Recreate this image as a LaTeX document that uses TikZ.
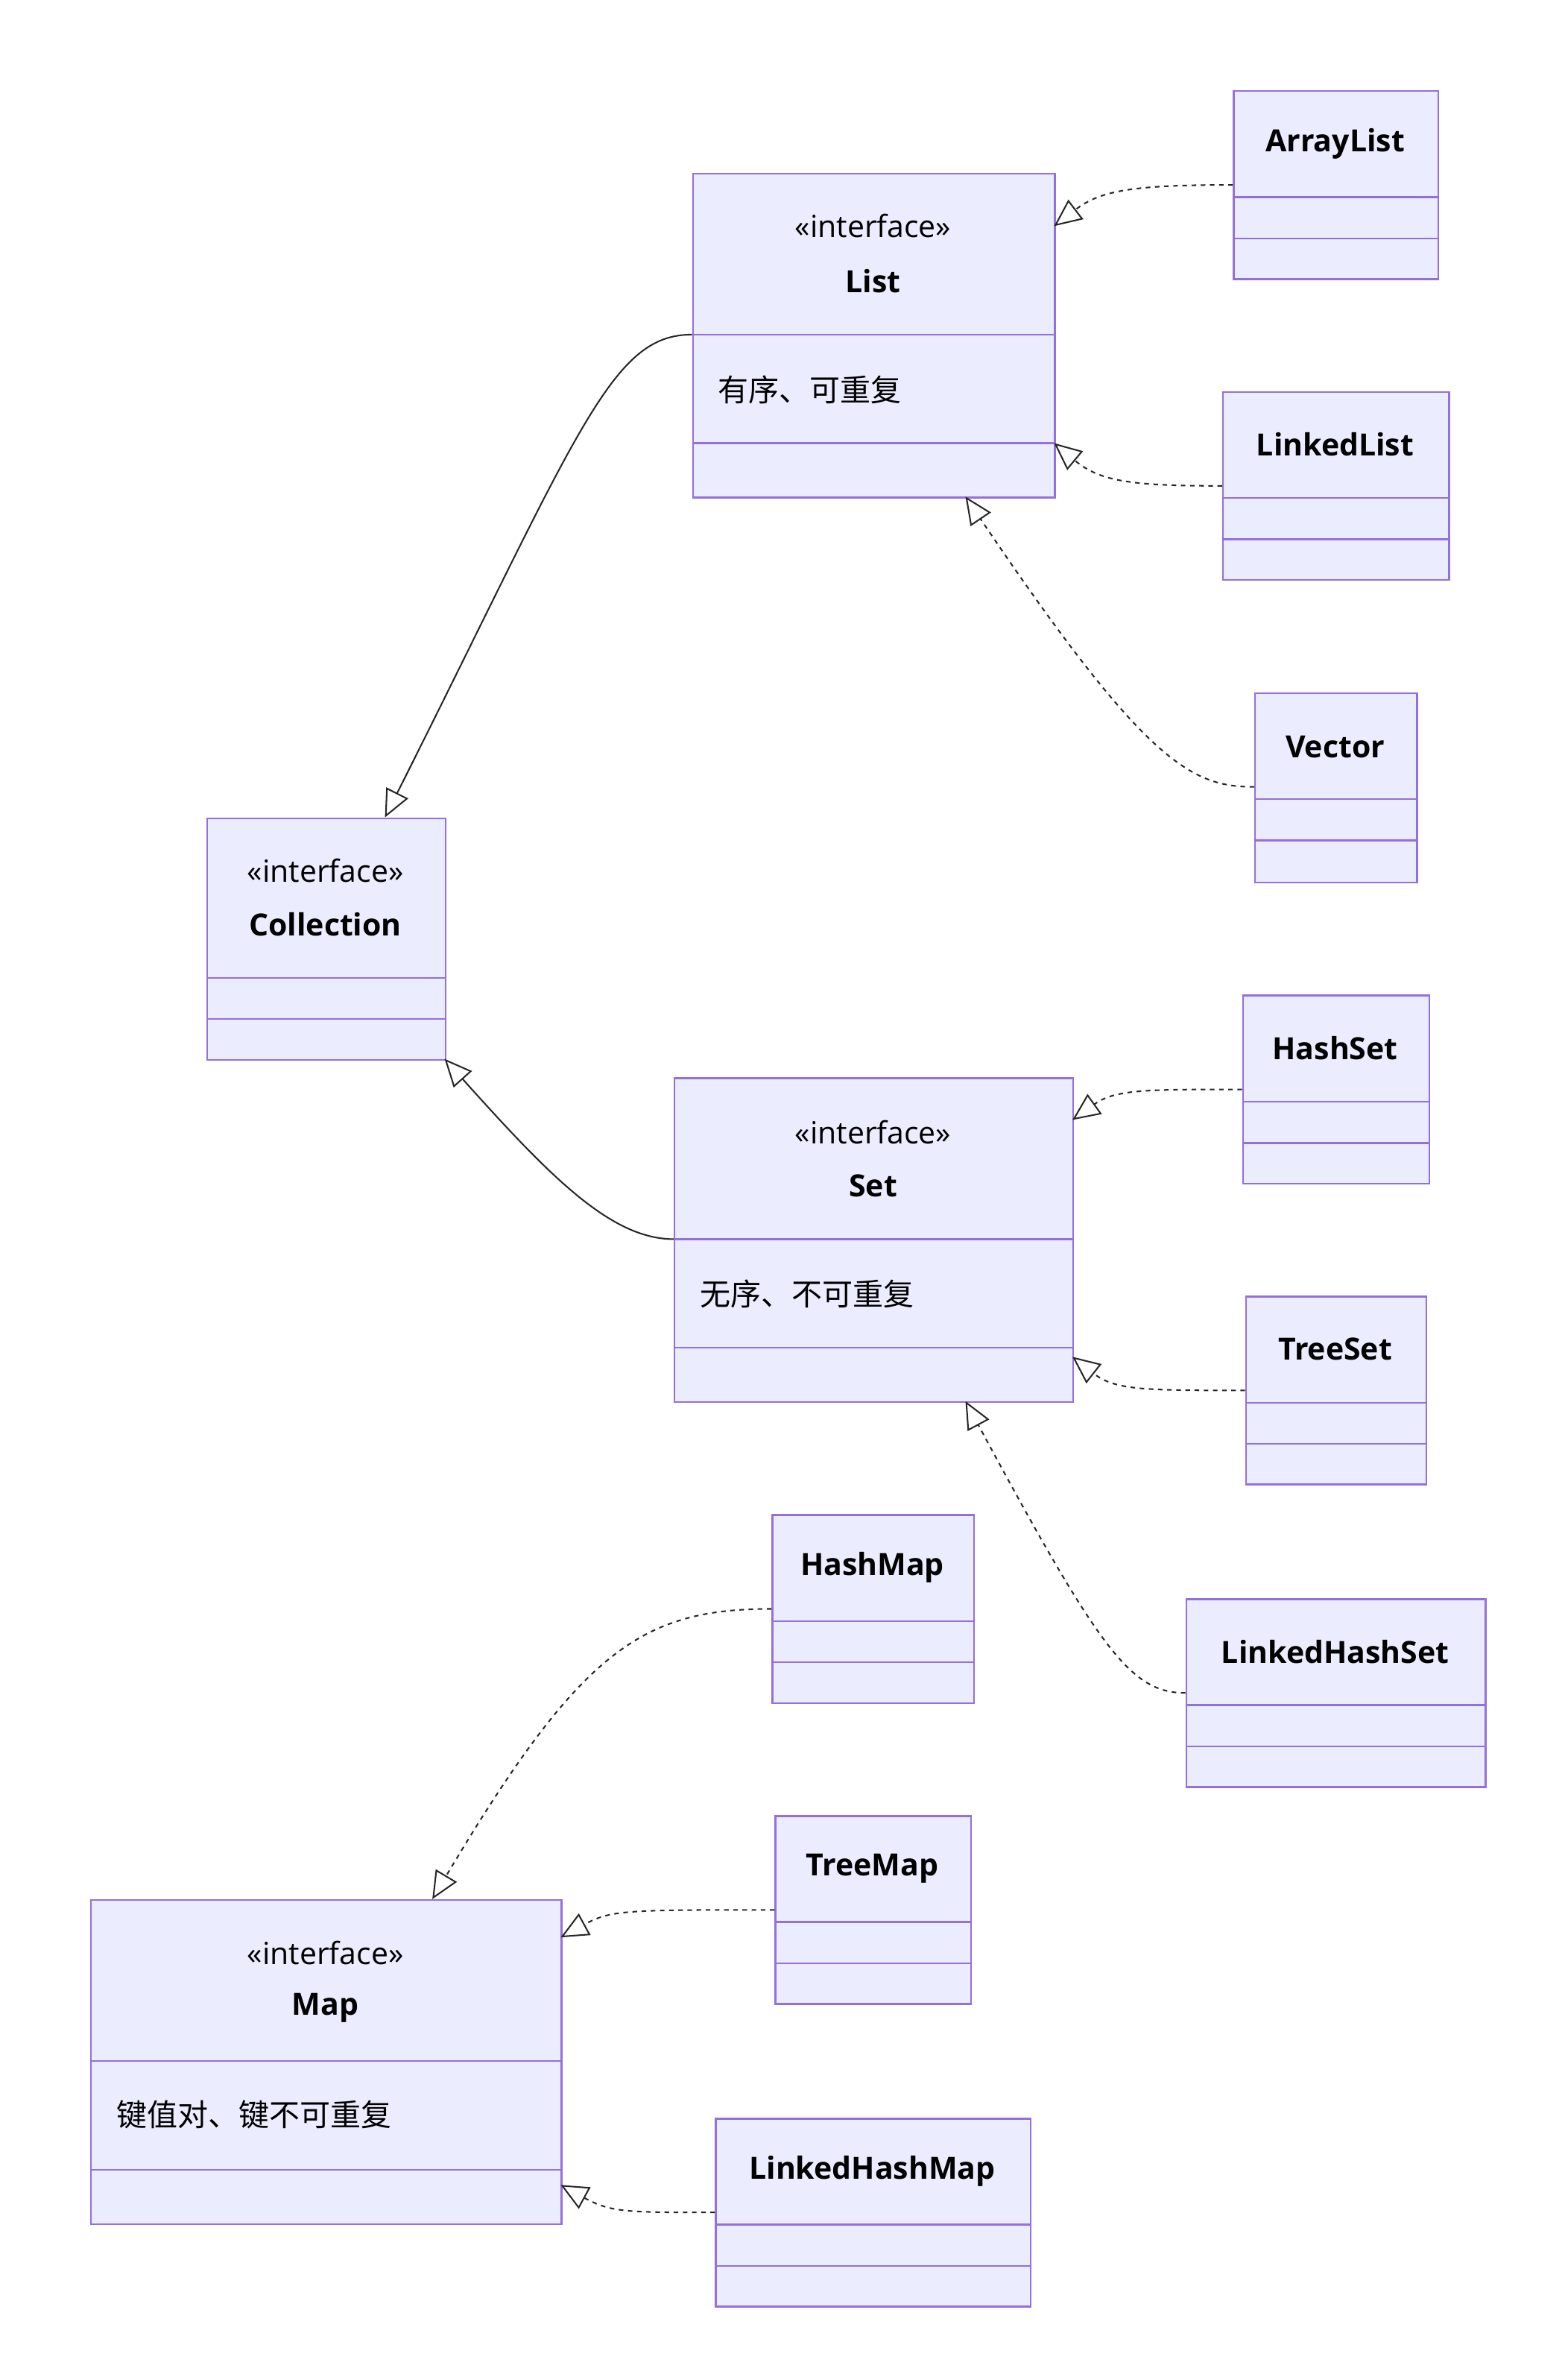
\documentclass[tikz,border=0pt]{standalone}
\usepackage{fontspec}
\setmainfont{Open Sans}
\newfontfamily\cjk{Noto Sans CJK SC}
\usetikzlibrary{arrows.meta}
\definecolor{bfill}{HTML}{ECECFF}
\definecolor{bline}{HTML}{9370DB}
\tikzset{
  umlbox/.style={draw=bline,fill=bfill,line width=1.2pt,inner sep=0pt,anchor=north west},
  divline/.style={draw=bline,line width=1.2pt},
  ttl/.style={font=\fontsize{20}{24}\selectfont\bfseries,inner sep=0pt},
  ster/.style={font=\fontsize{20}{24}\selectfont,inner sep=0pt},
  body/.style={font=\fontsize{20}{24}\selectfont\cjk,inner sep=0pt,anchor=west},
  inh/.style={draw=black!85,line width=1pt,-{Triangle[open,length=18pt,width=16pt,fill=white]}},
  real/.style={inh,dashed,dash pattern=on 3pt off 3pt}
}
\newcommand{\mybox}[7]{% name x1 y1 x2 y2 d1 d2
  \node[umlbox,minimum width=#4pt-#2pt,minimum height=#5pt-#3pt] (#1) at (#2,#3) {};
  \draw[divline] (#2,#6) -- (#4,#6);
  \draw[divline] (#2,#7) -- (#4,#7);
}
\begin{document}
\begin{tikzpicture}[x=1pt,y=-1pt]
\useasboundingbox (0,0) rectangle (1024,1557.7);
\mybox{list}{453}{113}{690}{325}{219}{290}
\node[ster] (listS) at (571.5,148) {«interface»};
\node[ttl] (listT) at (571.5,184) {List};
\node[body] (listB) at (470,255) {有序、可重复};
\mybox{arraylist}{807}{59}{941}{182}{129}{156}
\node[ttl] (alT) at (874,94) {ArrayList};
\mybox{linkedlist}{800}{256}{948}{379}{326}{353}
\node[ttl] (llT) at (874,291) {LinkedList};
\mybox{vector}{821}{453}{927}{577}{523}{550}
\node[ttl] (vT) at (874,489) {Vector};
\mybox{coll}{135}{535}{291}{693}{640}{667}
\node[ster] (cS) at (213,570) {«interface»};
\node[ttl] (cT) at (213,605) {Collection};
\mybox{set}{441}{705}{702}{917}{811}{882}
\node[ster] (sS) at (571.5,741) {«interface»};
\node[ttl] (sT) at (571.5,776) {Set};
\node[body] (sB) at (458,847) {无序、不可重复};
\mybox{hashset}{813}{651}{935}{774}{721}{748}
\node[ttl] (hsT) at (874,686) {HashSet};
\mybox{treeset}{815}{848}{933}{971}{918}{945}
\node[ttl] (tsT) at (874,883) {TreeSet};
\mybox{lhs}{776}{1046}{972}{1169}{1116}{1143}
\node[ttl] (lhsT) at (874,1081) {LinkedHashSet};
\mybox{hashmap}{505}{991}{637}{1114}{1061}{1088}
\node[ttl] (hmT) at (571,1026) {HashMap};
\mybox{treemap}{507}{1188}{635}{1311}{1258}{1285}
\node[ttl] (tmT) at (571,1223) {TreeMap};
\mybox{lhm}{468}{1386}{674}{1509}{1456}{1483}
\node[ttl] (lhmT) at (571,1421) {LinkedHashMap};
\mybox{map}{59}{1243}{367}{1455}{1349}{1420}
\node[ster] (mS) at (213,1278) {«interface»};
\node[ttl] (mT) at (213,1314) {Map};
\node[body] (mB) at (76,1384) {键值对、键不可重复};
% coordinates
\coordinate (a1) at (453,219); \coordinate (b1) at (252,535);
\coordinate (a2) at (441,811); \coordinate (b2) at (291,693);
\coordinate (a3) at (807,121); \coordinate (b3) at (690,148);
\coordinate (a4) at (800,318); \coordinate (b4) at (690,290);
\coordinate (a5) at (821,515); \coordinate (b5) at (632,325);
\coordinate (a6) at (813,713); \coordinate (b6) at (702,733);
\coordinate (a7) at (815,910); \coordinate (b7) at (702,888);
\coordinate (a8) at (776,1108); \coordinate (b8) at (632,917);
\coordinate (a9) at (505,1053); \coordinate (b9) at (283,1243);
\coordinate (a10) at (507,1250); \coordinate (b10) at (367,1268);
\coordinate (a11) at (468,1448); \coordinate (b11) at (367,1430);
\draw[inh] (a1) .. controls (400,219) and (380,280) .. (b1);
\draw[inh] (a2) .. controls (400,811) and (360,770) .. (b2);
\draw[real] (a3) .. controls (740,121) and (720,125) .. (b3);
\draw[real] (a4) .. controls (740,318) and (720,315) .. (b4);
\draw[real] (a5) .. controls (780,515) and (750,500) .. (b5);
\draw[real] (a6) .. controls (750,713) and (730,713) .. (b6);
\draw[real] (a7) .. controls (750,910) and (730,910) .. (b7);
\draw[real] (a8) .. controls (740,1108) and (720,1080) .. (b8);
\draw[real] (a9) .. controls (420,1053) and (380,1080) .. (b9);
\draw[real] (a10) .. controls (410,1250) and (400,1250) .. (b10);
\draw[real] (a11) .. controls (410,1448) and (400,1448) .. (b11);
\end{tikzpicture}
\end{document}
